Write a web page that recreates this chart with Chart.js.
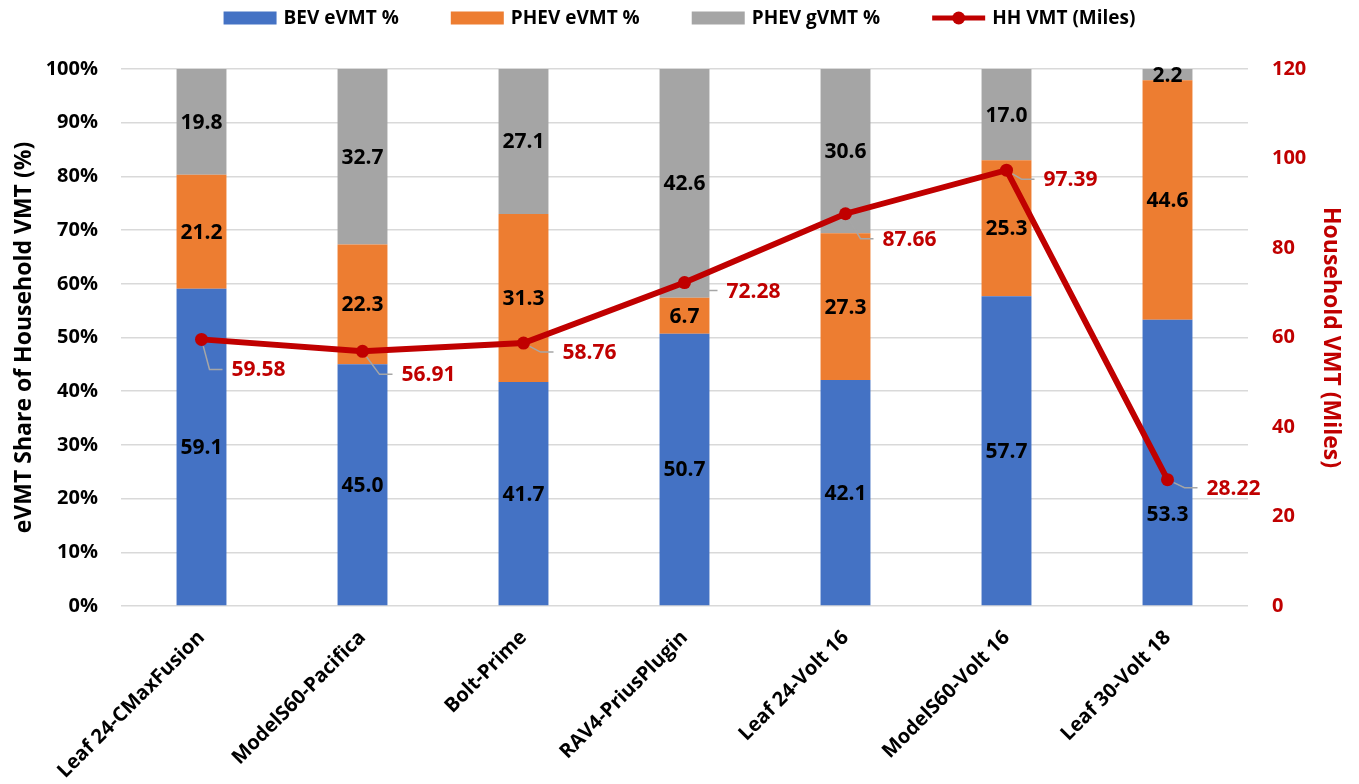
<!DOCTYPE html>
<html>
<head>
<meta charset="utf-8">
<script src="https://cdn.jsdelivr.net/npm/chart.js@4.4.0/dist/chart.umd.min.js"></script>
<style>
  html, body { margin: 0; padding: 0; background: #fff; }
  #wrap { width: 1359px; height: 784px; position: relative; }
</style>
</head>
<body>
<div id="wrap"><canvas id="chart"></canvas></div>
<script>
// Dados do gráfico
const categories = ['Leaf 24-CMaxFusion', 'ModelS60-Pacifica', 'Bolt-Prime', 'RAV4-PriusPlugin',
                    'Leaf 24-Volt 16', 'ModelS60-Volt 16', 'Leaf 30-Volt 18'];
const bevEvmt  = [59.1, 45.0, 41.7, 50.7, 42.1, 57.7, 53.3];
const phevEvmt = [21.2, 22.3, 31.3, 6.7, 27.3, 25.3, 44.6];
const phevGvmt = [19.8, 32.7, 27.1, 42.6, 30.6, 17.0, 2.2];
const hhVmt    = [59.58, 56.91, 58.76, 72.28, 87.66, 97.39, 28.22];
const shareTicks = [0, 10, 20, 30, 40, 50, 60, 70, 80, 90, 100];
const milesTicks = [0, 20, 40, 60, 80, 100, 120];

// deslocamento (px) dos rótulos da linha em relação ao ponto
const vmtLabelOffset = [[30, 30], [39, 23], [39, 9], [42, 8], [37, 25], [37, 9], [39, 8]];
// rótulo BEV da última barra foi empurrado para baixo no original
const bevLabelNudge = [0, 0, 0, 0, 0, 0, 52];

const FONT = '"Open Sans", "Noto Sans", sans-serif';
const RED = '#C00000';

// Legenda desenhada à mão (espaçamento como no original)
const legendPlugin = {
    id: 'legendPlugin',
    afterDraw(chart) {
        const ctx = chart.ctx;
        ctx.save();
        ctx.font = 'bold 19px ' + FONT;
        ctx.textBaseline = 'middle';
        const sw = 53, gapIn = 7, gapOut = 52, y = 18;
        const items = chart.data.datasets.map(ds => ({ ds, w: sw + gapIn + ctx.measureText(ds.label).width }));
        const total = items.reduce((s, it) => s + it.w, 0) + gapOut * (items.length - 1);
        let x = (chart.width - total) / 2;
        items.forEach(it => {
            const ds = it.ds;
            if (ds.type === 'line') {
                ctx.strokeStyle = RED; ctx.lineWidth = 5;
                ctx.beginPath(); ctx.moveTo(x, y); ctx.lineTo(x + sw, y); ctx.stroke();
                ctx.fillStyle = RED;
                ctx.beginPath(); ctx.arc(x + sw / 2, y, 6.5, 0, Math.PI * 2); ctx.fill();
            } else {
                ctx.fillStyle = ds.backgroundColor;
                ctx.fillRect(x, y - 6.5, sw, 13);
            }
            ctx.fillStyle = '#000';
            ctx.textAlign = 'left';
            ctx.fillText(ds.label, x + sw + gapIn, y + 1);
            x += it.w + gapOut;
        });
        ctx.restore();
    }
};

// Rótulos de valores
const valueLabels = {
    id: 'valueLabels',
    afterDatasetsDraw(chart) {
        const ctx = chart.ctx;
        ctx.save();
        ctx.font = 'bold 21px ' + FONT;
        ctx.textAlign = 'center';
        ctx.textBaseline = 'middle';
        ctx.fillStyle = '#000';
        [0, 1, 2].forEach(di => {
            const meta = chart.getDatasetMeta(di);
            meta.data.forEach((bar, i) => {
                const v = chart.data.datasets[di].data[i];
                const top = Math.max(bar.y, chart.chartArea.top);
                const nudge = di === 0 ? bevLabelNudge[i] : 0;
                ctx.fillText(v.toFixed(1), bar.x, (top + bar.base) / 2 + 1 + nudge);
            });
        });

        const lm = chart.getDatasetMeta(3);
        ctx.textAlign = 'left';
        lm.data.forEach((pt, i) => {
            const [dx, dy] = vmtLabelOffset[i];
            const tx = pt.x + dx, ty = pt.y + dy;
            const cx = tx - 22;
            const len = Math.hypot(cx - pt.x, ty - pt.y) || 1;
            ctx.strokeStyle = '#A6A6A6';
            ctx.lineWidth = 1.5;
            ctx.beginPath();
            ctx.moveTo(pt.x + (cx - pt.x) / len * 7, pt.y + (ty - pt.y) / len * 7);
            ctx.lineTo(cx, ty);
            ctx.lineTo(tx - 9, ty);
            ctx.stroke();
            ctx.fillStyle = RED;
            ctx.fillText(hhVmt[i].toFixed(2), tx, ty + 1);
        });
        ctx.restore();
    }
};

window.onload = function() {
    window.vmtChart = new Chart(document.getElementById('chart'), {
        data: {
            labels: categories,
            datasets: [
                { type: 'bar', label: 'BEV eVMT %', data: bevEvmt, backgroundColor: '#4472C4', yAxisID: 'y', order: 1 },
                { type: 'bar', label: 'PHEV eVMT %', data: phevEvmt, backgroundColor: '#ED7D31', yAxisID: 'y', order: 1 },
                { type: 'bar', label: 'PHEV gVMT %', data: phevGvmt, backgroundColor: '#A5A5A5', yAxisID: 'y', order: 1 },
                {
                    type: 'line', label: 'HH VMT (Miles)', data: hhVmt, yAxisID: 'y1', order: 0,
                    borderColor: RED, backgroundColor: RED, borderWidth: 6,
                    pointRadius: 6.5, pointBackgroundColor: RED, pointBorderWidth: 0,
                    tension: 0
                }
            ]
        },
        options: {
            responsive: true,
            maintainAspectRatio: false,
            animation: false,
            layout: { padding: { top: 69, left: 0, right: 0, bottom: 0 } },
            datasets: { bar: { barPercentage: 0.31, categoryPercentage: 1 } },
            plugins: {
                legend: { display: false },
                tooltip: { enabled: false }
            },
            scales: {
                x: {
                    stacked: true,
                    grid: { display: false },
                    border: { display: false },
                    ticks: {
                        maxRotation: 45, minRotation: 45,
                        color: '#000',
                        padding: 12,
                        font: { family: FONT, size: 20, weight: 'bold' }
                    },
                    afterFit(s) { s.height = 178; }
                },
                y: {
                    stacked: true,
                    position: 'left',
                    min: 0, max: 100,
                    afterBuildTicks(s) { s.ticks = shareTicks.map(v => ({ value: v })); },
                    grid: { color: '#D9D9D9', lineWidth: 1.5, drawTicks: false },
                    border: { display: false },
                    ticks: {
                        color: '#000',
                        padding: 23,
                        font: { family: FONT, size: 20, weight: 'bold' },
                        callback: v => v + '%'
                    },
                    title: {
                        display: true,
                        text: 'eVMT Share of Household VMT (%)',
                        color: '#000',
                        padding: { top: 11, bottom: 0 },
                        font: { family: FONT, size: 23, weight: 'bold' }
                    },
                    afterFit(s) { s.width = 121; }
                },
                y1: {
                    position: 'right',
                    min: 0, max: 120,
                    afterBuildTicks(s) { s.ticks = milesTicks.map(v => ({ value: v })); },
                    grid: { display: false, drawTicks: false },
                    border: { display: false },
                    ticks: {
                        color: RED,
                        padding: 24,
                        font: { family: FONT, size: 20, weight: 'bold' }
                    },
                    title: {
                        display: true,
                        text: 'Household VMT (Miles)',
                        color: RED,
                        padding: { top: 15, bottom: 0 },
                        font: { family: FONT, size: 23, weight: 'bold' }
                    },
                    afterFit(s) { s.width = 111; }
                }
            }
        },
        plugins: [valueLabels, legendPlugin]
    });
};
</script>
</body>
</html>
